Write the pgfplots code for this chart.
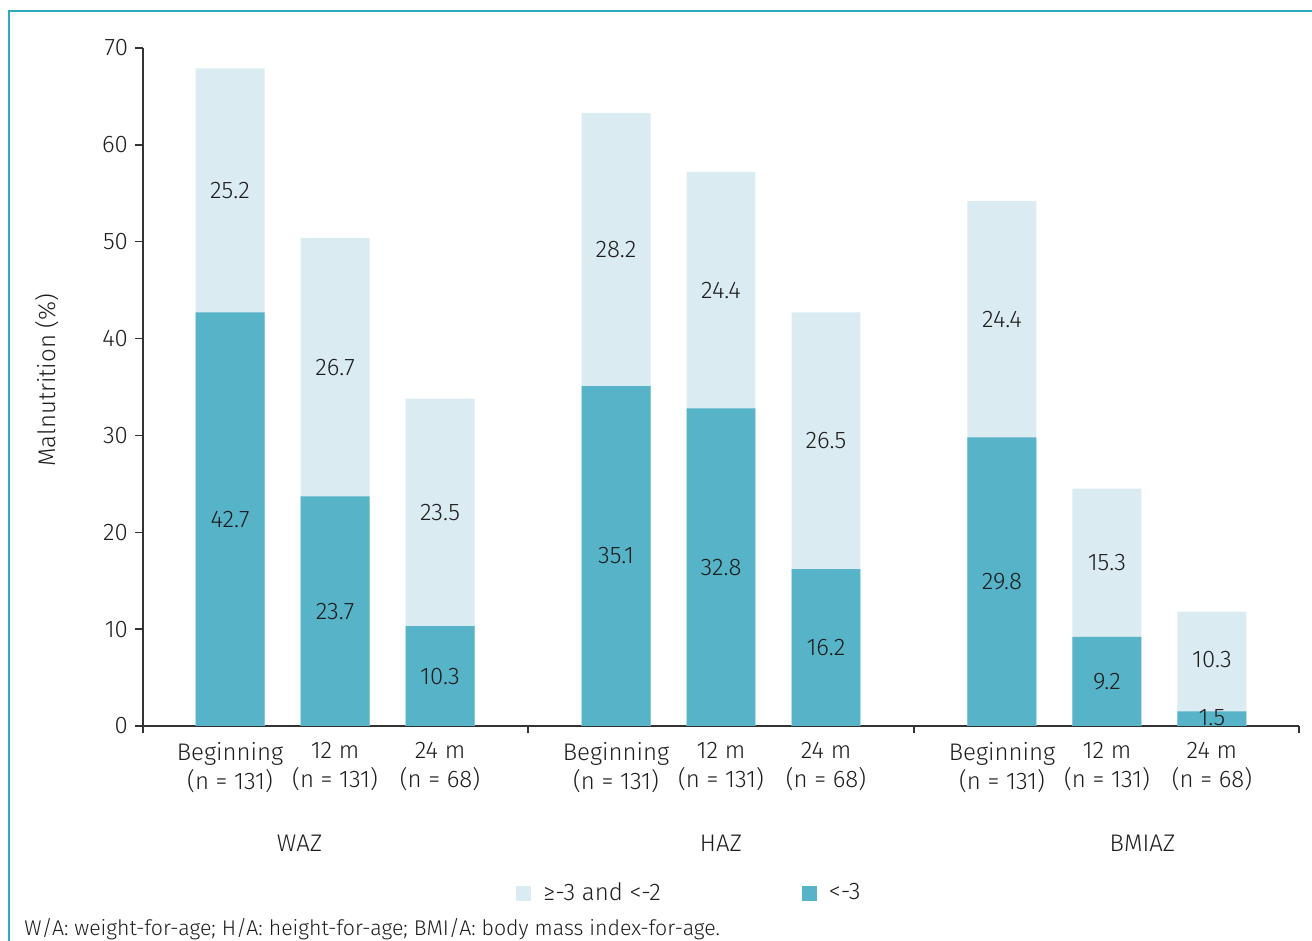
\documentclass[border=0pt]{standalone}
\usepackage{pgfplots}
\usepackage{pgfplotstable}
\pgfplotsset{compat=1.18}
\usepackage{fontspec}
\setmainfont{Fira Sans}[UprightFont={* Light}]

\definecolor{darkbar}{HTML}{57B3C8}
\definecolor{lightbar}{HTML}{DAEBF2}
\definecolor{framecol}{HTML}{2FA9BD}
\definecolor{axisgray}{HTML}{333333}
\definecolor{txt}{HTML}{1E1E1E}

% bar positions: 3 per group, groups spaced apart
\pgfplotstableread{
x      total  dark
0      67.9   42.7
1      50.4   23.7
2      33.8   10.3
3.676  63.3   35.1
4.676  57.2   32.8
5.676  42.7   16.2
7.352  54.2   29.8
8.352  24.5   9.2
9.352  11.8   1.5
}\bars

% value labels, centred in each segment
\pgfplotstableread{
x      y      lab
0      21.35  42.7
0      55.3   25.2
1      11.85  23.7
1      37.05  26.7
2      5.15   10.3
2      22.05  23.5
3.676  17.55  35.1
3.676  49.2   28.2
4.676  16.4   32.8
4.676  45.0   24.4
5.676  8.1    16.2
5.676  29.45  26.5
7.352  14.9   29.8
7.352  42.0   24.4
8.352  4.6    9.2
8.352  16.85  15.3
9.352  0.9    1.5
9.352  6.9    10.3
}\labels

\newcommand{\fs}{\fontsize{12}{14.5}\selectfont}

\begin{document}
\begin{tikzpicture}
\path[use as bounding box] (0,0) rectangle (656pt,470.5pt);
\draw[framecol, line width=1pt] (4.5pt,0) -- (4.5pt,465pt) -- (656pt,465pt);

\begin{axis}[
  at={(71.5pt,107.5pt)}, anchor=south west,
  scale only axis, width=578pt, height=339pt,
  xmin=-0.829, xmax=10.181, ymin=0, ymax=70,
  clip=false,
  axis lines=left,
  axis line style={-, draw=axisgray, line width=0.75pt},
  font=\fs, text=txt,
  tick align=outside,
  major tick length=4pt,
  tick style={draw=axisgray, line width=0.75pt},
  ytick={0,10,...,70},
  /pgf/number format/assume math mode=true,
  xtick={0,1,2,3.676,4.676,5.676,7.352,8.352,9.352},
  xticklabels={Beginning\\(n = 131),12 m\\(n = 131),24 m\\(n = 68),
               Beginning\\(n = 131),12 m\\(n = 131),24 m\\(n = 68),
               Beginning\\(n = 131),12 m\\(n = 131),24 m\\(n = 68)},
  xtick style={draw=none},
  x tick label style={align=center, font=\fs, yshift=-0.8pt},
  y tick label style={font=\fs},
  extra x ticks={-0.829,2.838,6.514,10.181},
  extra x tick labels={},
  extra x tick style={xtick style={draw=axisgray, line width=0.75pt}, major tick length=3.5pt},
  ylabel={Malnutrition (\%)},
  ylabel style={at={(axis description cs:-0.083,0.51)}, anchor=center, font=\fs},
  legend columns=2,
  legend style={at={(axis description cs:0.3227,-0.2464)}, anchor=west, draw=none, fill=none,
    inner sep=0pt, font=\fs,
    /tikz/every odd column/.append style={column sep=4pt},
    /tikz/every even column/.append style={column sep=68.5pt}},
  legend image code/.code={\fill[#1, draw=none] (0pt,-3.75pt) rectangle (7.5pt,3.75pt);},
]
\addlegendimage{draw=none, fill=lightbar}
\addlegendentry{≥-3 and <-2}
\addlegendimage{draw=none, fill=darkbar}
\addlegendentry{<-3}

\addplot[ybar, bar width=0.657, bar shift=0pt, fill=lightbar, draw=none, forget plot]
  table[x=x, y=total] {\bars};
\addplot[ybar, bar width=0.657, bar shift=0pt, fill=darkbar, draw=none, forget plot]
  table[x=x, y=dark] {\bars};
\addplot[draw=none, mark=none, forget plot, nodes near coords, point meta=explicit symbolic,
  every node near coord/.style={anchor=center, font=\fs, text=txt}]
  table[x=x, y=y, meta=lab] {\labels};

\node[text=txt, font=\fs] at (axis cs:0.662,-12.08) {WAZ};
\node[text=txt, font=\fs] at (axis cs:4.676,-12.08) {HAZ};
\node[text=txt, font=\fs] at (axis cs:8.69,-12.08) {BMIAZ};
\end{axis}

\node[anchor=base west, text=txt, inner sep=0pt, font=\fontsize{10.65}{12}\selectfont] at (12pt,2.5pt)
  {W/A: weight-for-age; H/A: height-for-age; BMI/A: body mass index-for-age.};
\end{tikzpicture}
\end{document}
